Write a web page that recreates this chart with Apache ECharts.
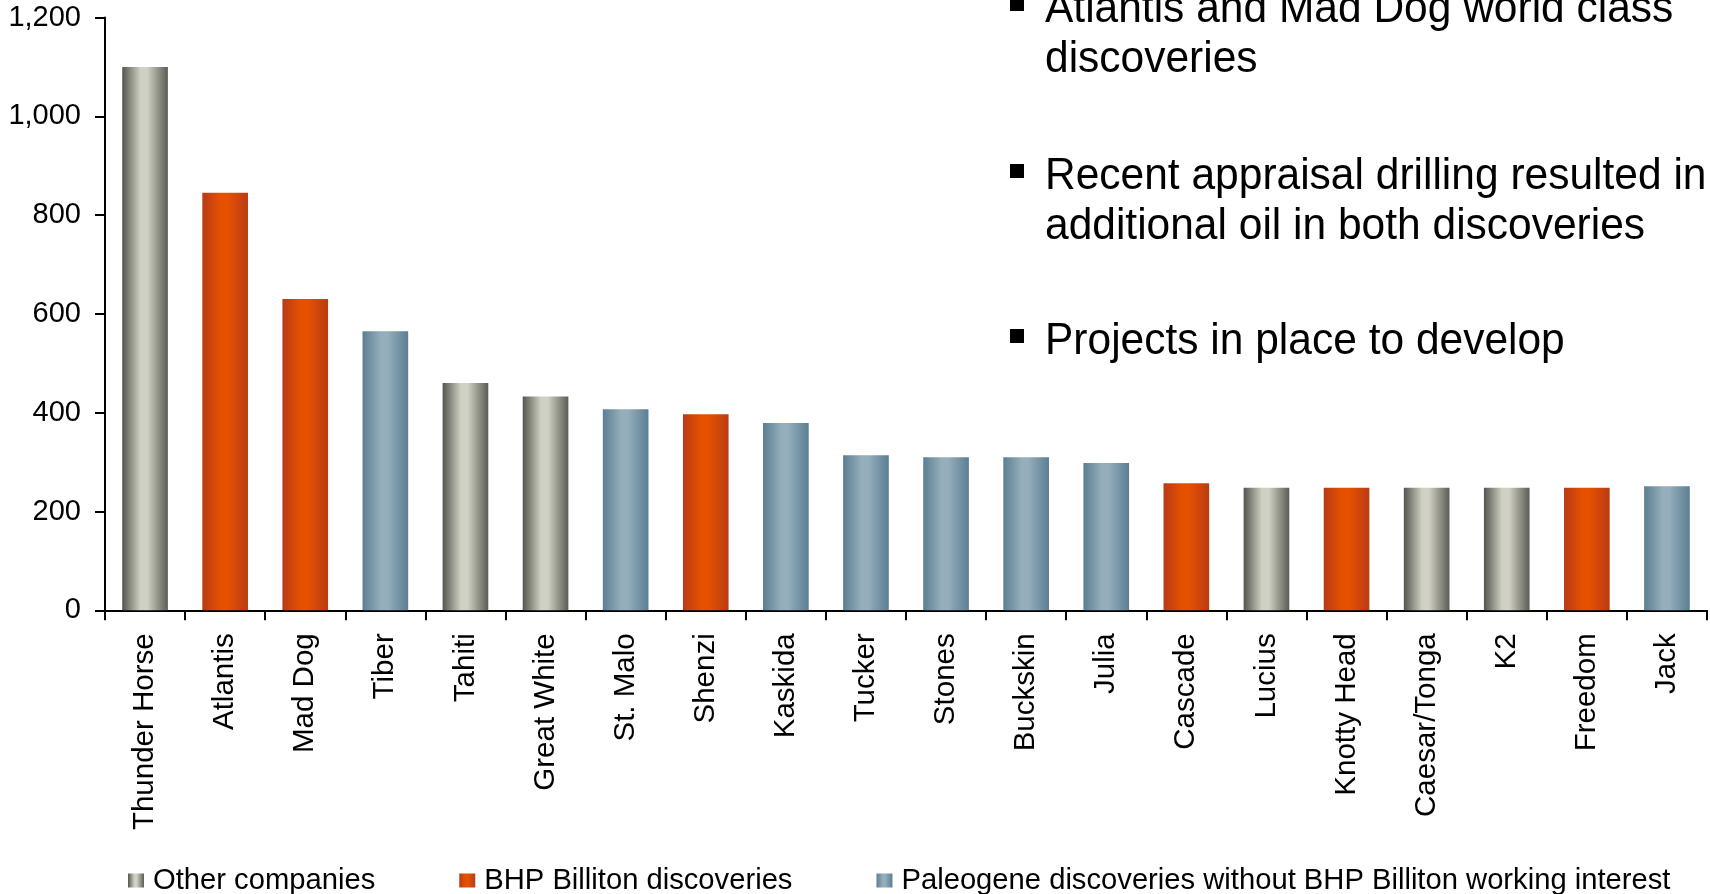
<!DOCTYPE html>
<html>
<head>
<meta charset="utf-8">
<title>Gulf of Mexico discoveries</title>
<script src="https://cdn.jsdelivr.net/npm/echarts@6/dist/echarts.min.js"></script>
<style>
  html, body {
    margin: 0;
    padding: 0;
    background: #ffffff;
  }
  #chart {
    width: 1710px;
    height: 894px;
  }
</style>
</head>
<body>
<div id="chart"></div>
<script>
const categories = ['Thunder Horse', 'Atlantis', 'Mad Dog', 'Tiber', 'Tahiti', 'Great White', 'St. Malo', 'Shenzi', 'Kaskida', 'Tucker',
  'Stones', 'Buckskin', 'Julia', 'Cascade', 'Lucius', 'Knotty Head', 'Caesar/Tonga', 'K2', 'Freedom', 'Jack'];
const volumes = [1100, 845, 630, 565, 460, 433, 407, 397, 379, 314, 310, 310, 298, 257, 248, 248, 248, 248, 248, 251];
const owners = ['other', 'bhp', 'bhp', 'paleogene', 'other', 'other', 'paleogene', 'bhp', 'paleogene', 'paleogene',
  'paleogene', 'paleogene', 'paleogene', 'bhp', 'other', 'bhp', 'other', 'other', 'bhp', 'paleogene'];
const yTicks = [0, 200, 400, 600, 800, 1000, 1200];

const groupKeys = ['other', 'bhp', 'paleogene'];
const groupNames = ['Other companies', 'BHP Billiton discoveries', 'Paleogene discoveries without BHP Billiton working interest'];
const bullets = [
  ['Atlantis and Mad Dog world class', 'discoveries'],
  ['Recent appraisal drilling resulted in', 'additional oil in both discoveries'],
  ['Projects in place to develop']
];

const FONT = '"Liberation Sans", Arial, Helvetica, sans-serif';

// cylinder-like shading, dark edges and a light band left of centre
const shade = (edgeL, light, edgeR) => ({
  type: 'linear', x: 0, y: 0, x2: 1, y2: 0,
  colorStops: [
    { offset: 0, color: edgeL },
    { offset: 0.4, color: light },
    { offset: 0.55, color: light },
    { offset: 1, color: edgeR }
  ]
});
const fills = {
  other: shade('#53564e', '#d0d0c4', '#5a5d55'),
  bhp: shade('#b73b16', '#e65100', '#b93c15'),
  paleogene: shade('#5b7e93', '#94aebb', '#5b7e92')
};

const renderChart = () => {
  const chart = echarts.init(document.getElementById('chart'));

  const series = groupKeys.map((key, gi) => ({
    name: groupNames[gi],
    type: 'bar',
    barWidth: '57%',
    barGap: '-100%',
    data: volumes.map((v, i) => (owners[i] === key ? v : '-')),
    itemStyle: { color: fills[key] },
    emphasis: { disabled: true }
  }));

  // text block on the right; baselines of the first line of each bullet
  const graphics = [];
  const lineStep = 50;
  const baselines = [23, 190, 355];
  bullets.forEach((lines, bi) => {
    graphics.push({
      type: 'rect',
      shape: { x: 1010, y: baselines[bi] - 26, width: 14, height: 14 },
      style: { fill: '#000000' }
    });
    lines.forEach((line, li) => {
      graphics.push({
        type: 'text',
        x: 1045,
        y: baselines[bi] + li * lineStep + 9,
        scaleY: 1.05,
        style: {
          text: line,
          fill: '#000000',
          font: '42.5px ' + FONT,
          textAlign: 'left',
          textVerticalAlign: 'bottom'
        }
      });
    });
  });

  const option = {
    animation: false,
    backgroundColor: '#ffffff',
    textStyle: { fontFamily: FONT },
    grid: {
      left: 105,
      right: 3,
      top: 17.5,
      bottom: 283.7,
      containLabel: false
    },
    legend: {
      left: 128,
      top: 866,
      padding: 0,
      itemGap: 84,
      itemWidth: 16,
      itemHeight: 14,
      icon: 'rect',
      selectedMode: false,
      textStyle: { fontSize: 29.2, color: '#000000', fontFamily: FONT, padding: [0, 0, 0, 4] },
      data: groupNames
    },
    xAxis: {
      type: 'category',
      data: categories,
      boundaryGap: true,
      axisLine: { lineStyle: { color: '#000000', width: 2 } },
      axisTick: { show: true, length: 10, lineStyle: { color: '#000000', width: 2 } },
      axisLabel: {
        rotate: 90,
        interval: 0,
        margin: 23,
        fontSize: 29.5,
        color: '#000000',
        fontFamily: FONT
      }
    },
    yAxis: {
      type: 'value',
      min: yTicks[0],
      max: yTicks[yTicks.length - 1],
      interval: yTicks[1] - yTicks[0],
      splitLine: { show: false },
      axisLine: { show: true, lineStyle: { color: '#000000', width: 2 } },
      axisTick: { show: true, length: 10, lineStyle: { color: '#000000', width: 2 } },
      axisLabel: {
        margin: 24,
        fontSize: 29,
        color: '#000000',
        fontFamily: FONT,
        formatter: (v) => v.toLocaleString('en-US')
      }
    },
    graphic: graphics,
    series: series
  };

  chart.setOption(option);
};

renderChart();
</script>
</body>
</html>
